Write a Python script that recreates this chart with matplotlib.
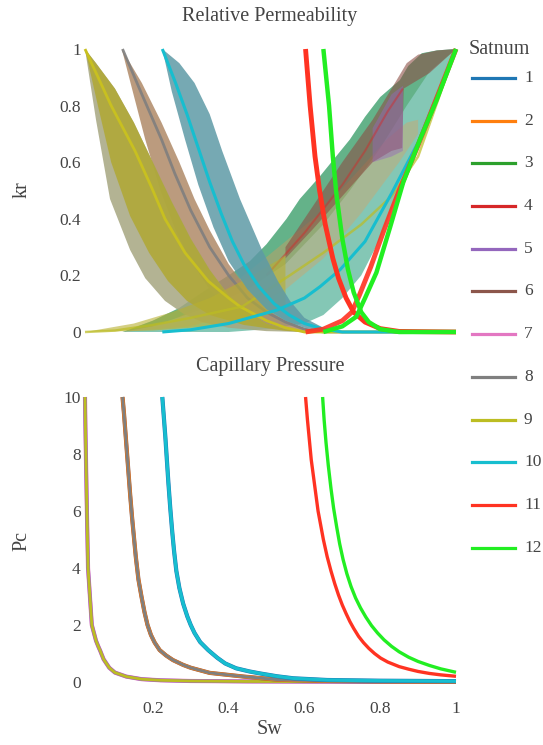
import numpy as np
import matplotlib
matplotlib.use("Agg")
import matplotlib.pyplot as plt
from matplotlib.lines import Line2D

plt.rcParams['font.family'] = ['Liberation Serif', 'DejaVu Serif']

# ---------------- data ----------------
satnums = ['1', '2', '3', '4', '5', '6', '7', '8', '9', '10', '11', '12']
satnum_colors = ['#1f77b4', '#ff7f0e', '#2ca02c', '#d62728', '#9467bd', '#8c564b',
                 '#e377c2', '#7f7f7f', '#bcbd22', '#17becf', '#ff3322', '#22ee22']

kr_ticks = [0, 0.2, 0.4, 0.6, 0.8, 1]
kr_tick_labels = ['0', '0.2', '0.4', '0.6', '0.8', '1']
pc_ticks = [0, 2, 4, 6, 8, 10]
pc_tick_labels = ['0', '2', '4', '6', '8', '10']
sw_ticks = [0.2, 0.4, 0.6, 0.8, 1.0]
sw_tick_labels = ['0.2', '0.4', '0.6', '0.8', '1']

# --- krw ensembles (envelopes) ---
teal_krw_hi_sw = [0.12, 0.2, 0.27, 0.33, 0.40, 0.456, 0.5, 0.553, 0.588, 0.641, 0.72, 0.76, 0.8, 0.852, 0.874, 0.91, 0.95, 1.0]
teal_krw_hi = [0, 0.04, 0.085, 0.14, 0.2, 0.25, 0.31, 0.4, 0.47, 0.55, 0.68, 0.76, 0.83, 0.89, 0.94, 0.985, 0.995, 1]
teal_krw_lo_sw = [0.12, 0.4, 0.5, 0.6, 0.65, 0.7, 0.75, 0.8, 0.85, 0.9, 0.95, 1.0]
teal_krw_lo = [0, 0, 0.01, 0.03, 0.06, 0.12, 0.2, 0.33, 0.5, 0.67, 0.84, 1]
green_krw_lo_sw = [0.2, 0.35, 0.45, 0.55, 0.65, 0.72, 0.8, 0.87, 0.93, 1.0]
green_krw_lo = [0.02, 0.09, 0.15, 0.24, 0.38, 0.5, 0.65, 0.8, 0.92, 1.0]

orange_krw_hi_sw = [0.12, 0.25, 0.35, 0.45, 0.55, 0.641, 0.729, 0.817, 0.87, 0.9]
orange_krw_hi = [0, 0.04, 0.11, 0.21, 0.32, 0.42, 0.55, 0.68, 0.74, 0.75]
orange_krw_lo_sw = [0.12, 0.3, 0.45, 0.55, 0.65, 0.75, 0.85, 0.9]
orange_krw_lo = [0, 0.02, 0.08, 0.15, 0.26, 0.42, 0.6, 0.7]

brown_krw_hi_sw = [0.55, 0.62, 0.7, 0.78, 0.83, 0.87, 0.9, 0.95, 1.0]
brown_krw_hi = [0.3, 0.44, 0.6, 0.75, 0.86, 0.95, 0.98, 0.995, 1]
brown_krw_lo_sw = [0.55, 0.62, 0.7, 0.78, 0.83, 0.858, 0.862, 0.93, 1.0]
brown_krw_lo = [0.26, 0.36, 0.48, 0.6, 0.64, 0.65, 0.86, 0.915, 1]

purple_krw_hi_sw = [0.78, 0.83, 0.86]
purple_krw_hi = [0.72, 0.84, 0.87]
purple_krw_lo_sw = [0.78, 0.83, 0.86]
purple_krw_lo = [0.6, 0.62, 0.64]

red4_krw_sw = [0.5, 0.6, 0.7, 0.76, 0.82, 0.86]
red4_krw = [0.2, 0.35, 0.52, 0.64, 0.78, 0.86]

olive_krw_hi_sw = [0.021, 0.15, 0.25, 0.35, 0.45, 0.55]
olive_krw_hi = [0, 0.03, 0.07, 0.12, 0.19, 0.27]
olive_krw_lo_sw = [0.021, 0.2, 0.35, 0.45, 0.55]
olive_krw_lo = [0, 0.005, 0.02, 0.04, 0.08]
olive_krw_sw = [0.021, 0.1, 0.2, 0.3, 0.436, 0.55, 0.65, 0.75, 0.83, 0.9, 1.0]
olive_krw = [0, 0.005, 0.025, 0.05, 0.09, 0.19, 0.28, 0.38, 0.48, 0.62, 1.0]

cyan_krw_sw = [0.225, 0.3, 0.4, 0.527, 0.6, 0.641, 0.694, 0.76, 0.83, 0.9, 1.0]
cyan_krw = [0, 0.008, 0.03, 0.077, 0.12, 0.16, 0.22, 0.32, 0.49, 0.67, 1.0]

red11_krw_sw = [0.603, 0.65, 0.7, 0.725, 0.745, 0.775, 0.81, 0.85, 0.9, 0.95, 1.0]
red11_krw = [0, 0.01, 0.04, 0.07, 0.13, 0.23, 0.36, 0.5, 0.66, 0.83, 1.0]
green12_krw_sw = [0.65, 0.7, 0.737, 0.76, 0.79, 0.826, 0.861, 0.905, 0.949, 1.0]
green12_krw = [0, 0.02, 0.054, 0.12, 0.21, 0.37, 0.53, 0.68, 0.82, 1.0]

# --- krow ensembles ---
brown_krow_hi_sw = [0.118, 0.171, 0.223, 0.27, 0.31, 0.35, 0.4, 0.45, 0.5, 0.55, 0.6, 0.65]
brown_krow_hi = [1, 0.88, 0.74, 0.6, 0.47, 0.36, 0.24, 0.15, 0.08, 0.04, 0.015, 0]
brown_krow_lo_sw = [0.118, 0.146, 0.18, 0.22, 0.26, 0.3, 0.35, 0.4, 0.45, 0.5, 0.6]
brown_krow_lo = [1, 0.855, 0.68, 0.5, 0.36, 0.25, 0.15, 0.08, 0.04, 0.015, 0]
gray_krow_sw = [0.12, 0.171, 0.223, 0.258, 0.3, 0.35, 0.4, 0.45, 0.5, 0.55, 0.6, 0.65, 1.0]
gray_krow = [1, 0.84, 0.68, 0.56, 0.43, 0.3, 0.2, 0.12, 0.07, 0.035, 0.01, 0, 0]

olive_krow_hi_sw = [0.021, 0.05, 0.1, 0.15, 0.2, 0.25, 0.3, 0.35, 0.4, 0.45, 0.5, 0.55, 0.6]
olive_krow_hi = [1, 0.95, 0.86, 0.74, 0.6, 0.46, 0.33, 0.22, 0.13, 0.07, 0.03, 0.01, 0]
olive_krow_lo_sw = [0.021, 0.05, 0.087, 0.14, 0.18, 0.232, 0.28, 0.33, 0.4, 0.5, 0.6]
olive_krow_lo = [1, 0.75, 0.47, 0.29, 0.19, 0.11, 0.065, 0.035, 0.015, 0.003, 0]
olive_krow_inner_sw = [0.021, 0.055, 0.09, 0.14, 0.19, 0.24, 0.29, 0.35, 0.44, 0.55]
olive_krow_inner = [1, 0.8, 0.6, 0.41, 0.28, 0.18, 0.11, 0.06, 0.025, 0.004]
olive_krow_sw = [0.021, 0.09, 0.153, 0.197, 0.232, 0.285, 0.346, 0.4, 0.43, 0.5, 0.55, 0.6, 1.0]
olive_krow = [1, 0.8, 0.64, 0.51, 0.4, 0.28, 0.18, 0.12, 0.09, 0.04, 0.015, 0, 0]

cyan_krow_hi_sw = [0.225, 0.27, 0.31, 0.35, 0.383, 0.43, 0.488, 0.53, 0.562, 0.6, 0.65, 0.7]
cyan_krow_hi = [1, 0.95, 0.88, 0.77, 0.64, 0.47, 0.29, 0.18, 0.11, 0.05, 0.015, 0]
cyan_krow_lo_sw = [0.225, 0.25, 0.285, 0.32, 0.36, 0.4, 0.45, 0.5, 0.55, 0.6, 0.65, 0.68]
cyan_krow_lo = [1, 0.85, 0.68, 0.52, 0.37, 0.25, 0.15, 0.08, 0.04, 0.015, 0.003, 0]
cyan_krow_sw = [0.225, 0.26, 0.29, 0.32, 0.35, 0.38, 0.41, 0.44, 0.48, 0.52, 0.56, 0.6, 0.65, 0.7, 1.0]
cyan_krow = [1, 0.88, 0.77, 0.65, 0.53, 0.42, 0.32, 0.24, 0.16, 0.1, 0.06, 0.03, 0.01, 0, 0]

red11_krow_sw = [0.603, 0.615, 0.628, 0.64, 0.655, 0.675, 0.69, 0.71, 0.73, 0.76, 0.8, 0.85, 1.0]
red11_krow = [1, 0.8, 0.62, 0.5, 0.38, 0.26, 0.19, 0.12, 0.07, 0.035, 0.012, 0.002, 0]
green12_krow_sw = [0.65, 0.665, 0.675, 0.685, 0.7, 0.715, 0.73, 0.75, 0.77, 0.8, 0.85, 1.0]
green12_krow = [1, 0.8, 0.62, 0.48, 0.33, 0.22, 0.14, 0.07, 0.035, 0.01, 0, 0]

# --- capillary pressure ---
pc_a_sw = [0.021, 0.022, 0.024, 0.026, 0.029, 0.034, 0.039, 0.045, 0.05, 0.056, 0.061, 0.07, 0.085, 0.1, 0.13, 0.17, 0.22, 0.3, 0.45, 0.7, 1.0]
pc_a = [10, 9, 7.5, 6, 4, 3, 2, 1.7, 1.45, 1.25, 1.1, 0.8, 0.5, 0.33, 0.19, 0.1, 0.06, 0.035, 0.02, 0.01, 0.005]
pc_b_sw = [0.12, 0.124, 0.128, 0.132, 0.136, 0.14, 0.145, 0.15, 0.155, 0.162, 0.17, 0.178, 0.186, 0.195, 0.205, 0.218, 0.235, 0.253, 0.28, 0.3, 0.35, 0.44, 0.53, 0.65, 0.8, 1.0]
pc_b = [10, 9.4, 8.7, 8.0, 7.3, 6.6, 5.8, 5.1, 4.4, 3.6, 3.0, 2.45, 2.0, 1.65, 1.38, 1.12, 0.93, 0.77, 0.6, 0.5, 0.32, 0.19, 0.08, 0.04, 0.02, 0.01]
pc_c_sw = [0.225, 0.229, 0.233, 0.237, 0.241, 0.246, 0.251, 0.256, 0.262, 0.27, 0.28, 0.291, 0.3, 0.31, 0.325, 0.346, 0.37, 0.391, 0.42, 0.455, 0.483, 0.528, 0.571, 0.66, 0.8, 1.0]
pc_c = [10, 9.3, 8.6, 7.8, 7.0, 6.1, 5.3, 4.6, 3.9, 3.3, 2.75, 2.3, 2.0, 1.72, 1.4, 1.12, 0.85, 0.65, 0.48, 0.37, 0.3, 0.2, 0.13, 0.07, 0.045, 0.03]
pc_d_sw = [0.603, 0.608, 0.613, 0.618, 0.624, 0.63, 0.636, 0.643, 0.65, 0.66, 0.67, 0.68, 0.69, 0.7, 0.71, 0.72, 0.73, 0.743, 0.756, 0.77, 0.785, 0.801, 0.82, 0.85, 0.875, 0.9, 0.93, 0.96, 1.0]
pc_d = [10, 9.2, 8.5, 7.8, 7.2, 6.6, 6.0, 5.5, 5.0, 4.4, 3.9, 3.45, 3.05, 2.7, 2.4, 2.12, 1.88, 1.6, 1.38, 1.18, 1.0, 0.84, 0.7, 0.54, 0.45, 0.37, 0.3, 0.25, 0.2]
pc_e_sw = [0.648, 0.652, 0.657, 0.663, 0.67, 0.677, 0.685, 0.693, 0.702, 0.712, 0.723, 0.735, 0.748, 0.762, 0.777, 0.793, 0.81, 0.83, 0.85, 0.875, 0.9, 0.93, 0.96, 1.0]
pc_e = [10, 9.2, 8.4, 7.6, 6.8, 6.1, 5.45, 4.85, 4.3, 3.8, 3.35, 2.95, 2.6, 2.28, 1.98, 1.72, 1.48, 1.25, 1.06, 0.87, 0.72, 0.58, 0.46, 0.34]

# ---------------- figure ----------------
W, H = 543, 745
fig = plt.figure(figsize=(W / 100, H / 100), dpi=100)
fig.patch.set_facecolor('white')
TXT = '#444444'


def fx(px):
    return px / W


def fy(py):
    return 1 - py / H


ax1 = fig.add_axes([fx(85), fy(332), fx(456) - fx(85), fy(49) - fy(332)])
ax2 = fig.add_axes([fx(85), fy(682), fx(456) - fx(85), fy(397) - fy(682)])


def band(ax, sw_hi, hi, sw_lo, lo, color, alpha, z):
    xs = np.concatenate([np.asarray(sw_hi), np.asarray(sw_lo)[::-1]])
    ys = np.concatenate([np.asarray(hi), np.asarray(lo)[::-1]])
    ax.fill(xs, ys, color=color, alpha=alpha, lw=0, zorder=z)


def line(ax, sw, v, color, lw, alpha=1.0, z=5):
    ax.plot(sw, v, color=color, lw=lw, alpha=alpha, zorder=z, clip_on=False,
            solid_capstyle='butt', solid_joinstyle='round')


# krw bands
band(ax1, teal_krw_hi_sw, teal_krw_hi, teal_krw_lo_sw, teal_krw_lo, '#5bb59c', 0.75, 1)
band(ax1, teal_krw_hi_sw, teal_krw_hi, green_krw_lo_sw, green_krw_lo, '#3d9a55', 0.45, 1.1)
band(ax1, orange_krw_hi_sw, orange_krw_hi, orange_krw_lo_sw, orange_krw_lo, '#e89a55', 0.35, 1.2)
band(ax1, brown_krw_hi_sw, brown_krw_hi, brown_krw_lo_sw, brown_krw_lo, '#8c4f45', 0.6, 1.3)
band(ax1, purple_krw_hi_sw, purple_krw_hi, purple_krw_lo_sw, purple_krw_lo, '#9467bd', 0.45, 1.4)
line(ax1, red4_krw_sw, red4_krw, '#d62728', 1.5, 0.45, 1.5)

# krow bands (satnum order)
band(ax1, brown_krow_hi_sw, brown_krow_hi, brown_krow_lo_sw, brown_krow_lo, '#b08a68', 0.85, 2)
line(ax1, gray_krow_sw, gray_krow, '#7f7f7f', 2.0, 0.9, 2.1)
band(ax1, olive_krow_hi_sw, olive_krow_hi, olive_krow_lo_sw, olive_krow_lo, '#a6a680', 0.85, 3)
band(ax1, olive_krow_hi_sw, olive_krow_hi, olive_krow_inner_sw, olive_krow_inner, '#b0a833', 0.85, 3.01)
band(ax1, olive_krw_hi_sw, olive_krw_hi, olive_krw_lo_sw, olive_krw_lo, '#b8b030', 0.6, 3.05)
line(ax1, olive_krow_sw, olive_krow, '#c8c020', 2.0, 1.0, 3.1)
line(ax1, olive_krw_sw, olive_krw, '#bcbd22', 1.8, 0.7, 3.1)
band(ax1, cyan_krow_hi_sw, cyan_krow_hi, cyan_krow_lo_sw, cyan_krow_lo, '#5e9aa6', 0.85, 4)
line(ax1, cyan_krow_sw, cyan_krow, '#17becf', 2.2, 1.0, 4.1)
line(ax1, cyan_krw_sw, cyan_krw, '#17becf', 2.2, 1.0, 4.1)

# satnum 11, 12
line(ax1, red11_krw_sw, red11_krw, '#ff3322', 3.5, 0.9, 5)
line(ax1, red11_krow_sw, red11_krow, '#ff3322', 3.5, 1.0, 5)
line(ax1, green12_krw_sw, green12_krw, '#22ee22', 3.2, 1.0, 6)
line(ax1, green12_krow_sw, green12_krow, '#22ee22', 3.2, 1.0, 6)

# capillary pressure
line(ax2, pc_a_sw, pc_a, '#e377c2', 3.0, 1.0, 1)
line(ax2, pc_a_sw, pc_a, '#9467bd', 2.6, 1.0, 1.1)
line(ax2, pc_a_sw, pc_a, '#bcbd22', 2.0, 1.0, 1.2)
line(ax2, pc_b_sw, pc_b, '#8c564b', 3.0, 1.0, 2)
line(ax2, pc_b_sw, pc_b, '#ff7f0e', 2.6, 1.0, 2.1)
line(ax2, pc_b_sw, pc_b, '#7f7f7f', 2.0, 1.0, 2.2)
line(ax2, pc_c_sw, pc_c, '#1f77b4', 3.0, 1.0, 3)
line(ax2, pc_c_sw, pc_c, '#17becf', 2.4, 1.0, 3.1)
line(ax2, pc_d_sw, pc_d, '#ff3322', 2.4, 1.0, 4)
line(ax2, pc_e_sw, pc_e, '#22ee22', 2.4, 1.0, 5)

for ax, yt, ytl, ylim in [(ax1, kr_ticks, kr_tick_labels, (0, 1)),
                          (ax2, pc_ticks, pc_tick_labels, (0, 10))]:
    ax.set_xlim(0.021, 1.0)
    ax.set_ylim(*ylim)
    ax.set_yticks(yt)
    ax.set_yticklabels(ytl)
    for s in ax.spines.values():
        s.set_visible(False)
    ax.tick_params(axis='both', length=0, labelsize=12.5, colors=TXT)
    ax.tick_params(axis='y', pad=3)
    ax.set_facecolor('none')

ax1.set_xticks([])
ax2.set_xticks(sw_ticks)
ax2.set_xticklabels(sw_tick_labels)
ax2.tick_params(axis='x', pad=14)

fig.text(fx(270), fy(17), 'Relative Permeability', ha='center', va='center', fontsize=14.5, color=TXT)
fig.text(fx(270), fy(367), 'Capillary Pressure', ha='center', va='center', fontsize=14.5, color=TXT)
fig.text(fx(22), fy(190), 'kr', ha='center', va='center', rotation=90, fontsize=14.5, color=TXT)
fig.text(fx(22), fy(541), 'Pc', ha='center', va='center', rotation=90, fontsize=14.5, color=TXT)
fig.text(fx(270), fy(729), 'Sw', ha='center', va='center', fontsize=14.5, color=TXT)

# legend
fig.text(fx(469), fy(50), 'Satnum', ha='left', va='center', fontsize=14.5, color=TXT)
for i, (lab, col) in enumerate(zip(satnums, satnum_colors)):
    ypx = 78 + i * 42.7
    fig.add_artist(Line2D([fx(472), fx(515)], [fy(ypx), fy(ypx)], color=col, lw=2.3))
    fig.text(fx(524), fy(ypx), lab, ha='left', va='center', fontsize=12.5, color=TXT)

fig.savefig('out.png', dpi=100, facecolor='white')
